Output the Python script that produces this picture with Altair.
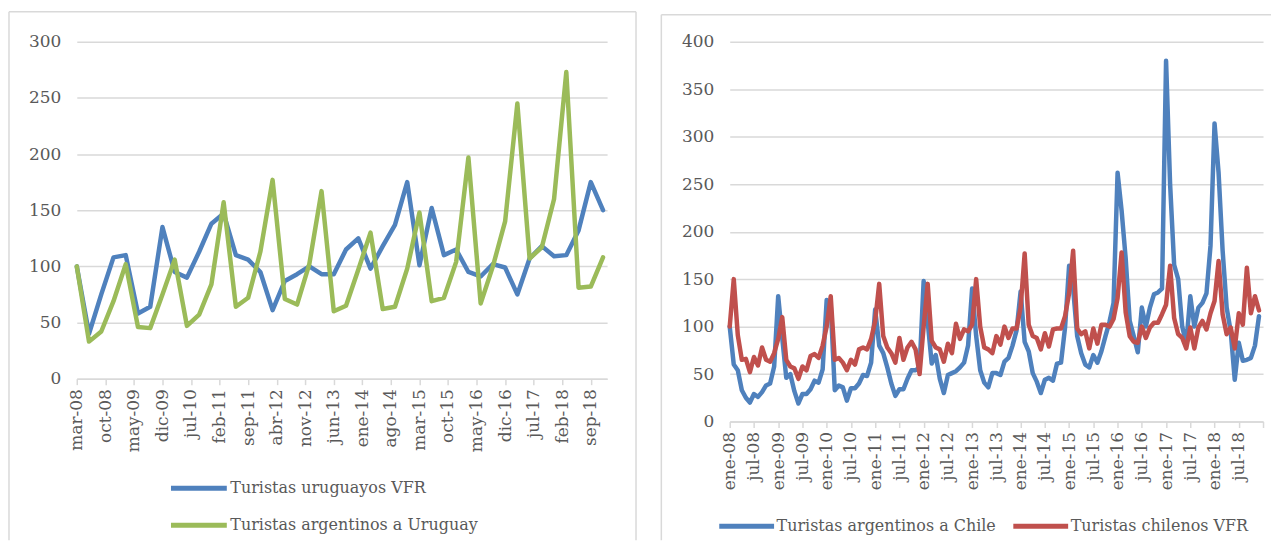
import json
import altair as alt
import pandas as pd

FONT = "DejaVu Serif"
TXT = "#595959"
GRID = "#D9D9D9"
BORDER = "#D9D9D9"

# ---------------- Left panel (quarterly, mar-08 .. dic-18) ----------------
left_series = ["Turistas uruguayos VFR", "Turistas argentinos a Uruguay"]
left_colors = ["#4F81BD", "#9BBB59"]
uruguayos_vfr = [100, 40, 75, 108, 110, 58, 64, 135, 95, 90,
                 113, 138, 147, 110, 106, 95, 61, 87, 93, 100,
                 93, 93, 115, 125, 98, 118, 137, 175, 101, 152,
                 110, 115, 95, 91, 102, 99, 75, 107, 118, 109,
                 110, 132, 175, 150]
argentinos_uy = [100, 33, 42, 69, 102, 46, 45, 75, 106, 47,
                 57, 84, 157, 64, 72, 113, 177, 71, 66, 102,
                 167, 60, 65, 97, 130, 62, 64, 98, 148, 69,
                 72, 104, 197, 67, 100, 140, 245, 107, 117, 160,
                 273, 81, 82, 108]
left_ticks = ["mar-08", "oct-08", "may-09", "dic-09", "jul-10", "feb-11", "sep-11",
              "abr-12", "nov-12", "jun-13", "ene-14", "ago-14", "mar-15", "oct-15",
              "may-16", "dic-16", "jul-17", "feb-18", "sep-18"]

# ---------------- Right panel (monthly, ene-08 .. dic-18) ----------------
right_series = ["Turistas argentinos a Chile", "Turistas chilenos VFR"]
right_colors = ["#4F81BD", "#C0504D"]
argentinos_cl = [
    100, 60, 54, 33, 25, 20, 29, 26, 31, 38, 40, 58,      # 2008
    132, 88, 46, 50, 32, 19, 29, 29, 34, 43, 41, 55,      # 2009
    128, 122, 33, 38, 36, 22, 35, 35, 40, 49, 48, 62,     # 2010
    118, 80, 72, 57, 40, 27, 34, 34, 45, 54, 54, 57,      # 2011
    148, 105, 61, 70, 45, 30, 49, 51, 53, 57, 62, 80,     # 2012
    140, 90, 54, 41, 36, 51, 51, 49, 63, 67, 80, 96,      # 2013
    137, 84, 74, 51, 42, 30, 44, 46, 43, 61, 62, 99,      # 2014
    164, 140, 90, 72, 60, 57, 70, 62, 74, 90, 105, 125,   # 2015
    262, 222, 172, 106, 90, 73, 120, 100, 120, 134, 136, 140,  # 2016
    380, 250, 165, 150, 100, 82, 132, 100, 120, 125, 135, 185,  # 2017
    314, 262, 180, 120, 95, 44, 83, 64, 65, 67, 80, 111,  # 2018
]
chilenos_vfr = [
    100, 150, 91, 65, 66, 52, 68, 59, 78, 65, 63, 72,     # 2008
    87, 110, 65, 58, 56, 45, 58, 54, 69, 71, 67, 80,      # 2009
    100, 132, 65, 67, 62, 54, 65, 60, 76, 78, 76, 87,     # 2010
    106, 145, 90, 78, 72, 62, 88, 65, 78, 84, 76, 50,     # 2011
    100, 145, 85, 78, 76, 63, 82, 72, 103, 87, 97, 95,    # 2012
    102, 150, 100, 78, 76, 72, 90, 81, 100, 88, 98, 98,   # 2013
    120, 177, 102, 90, 88, 76, 93, 79, 97, 98, 98, 111,   # 2014
    135, 180, 98, 92, 95, 77, 98, 82, 102, 102, 100, 108, # 2015
    130, 178, 115, 90, 84, 83, 100, 88, 99, 104, 104, 113,  # 2016
    123, 164, 109, 92, 88, 77, 99, 77, 99, 106, 97, 114,  # 2017
    127, 169, 113, 92, 99, 77, 114, 102, 162, 114, 132, 117,  # 2018
]
right_ticks = ["ene-08", "jul-08", "ene-09", "jul-09", "ene-10", "jul-10", "ene-11",
               "jul-11", "ene-12", "jul-12", "ene-13", "jul-13", "ene-14", "jul-14",
               "ene-15", "jul-15", "ene-16", "jul-16", "ene-17", "jul-17", "ene-18",
               "jul-18"]

# month offsets derived from the dates of each observation
left_months = [3 * i for i in range(len(uruguayos_vfr))]      # months since mar-08
right_months = list(range(len(argentinos_cl)))                 # months since ene-08

left_df = pd.DataFrame({
    "mes": left_months + left_months,
    "valor": uruguayos_vfr + argentinos_uy,
    "serie": [left_series[0]] * len(uruguayos_vfr) + [left_series[1]] * len(argentinos_uy),
})
right_df = pd.DataFrame({
    "mes": right_months + right_months,
    "valor": argentinos_cl + chilenos_vfr,
    "serie": [right_series[0]] * len(argentinos_cl) + [right_series[1]] * len(chilenos_vfr),
})
dummy = pd.DataFrame({"k": [0]})


def rule(x1, x2, y1, y2):
    return alt.Chart(dummy).mark_rule(color=BORDER, strokeWidth=1.5).encode(
        x=alt.value(x1), x2=alt.value(x2), y=alt.value(y1), y2=alt.value(y2)
    )


def x_axis(values, labels, step):
    expr = f"{json.dumps(labels)}[round(datum.value / {step})] || ''"
    return alt.Axis(values=values, labelExpr=expr, labelAngle=270, labelFont=FONT,
                    labelFontSize=17, labelColor=TXT, labelPadding=4, labelOverlap=False,
                    labelFlush=False, domainColor=GRID, domainWidth=1.5, tickColor=GRID,
                    tickWidth=1.5, tickSize=6, grid=False, title=None)


def y_axis(values):
    return alt.Axis(values=values, domain=False, ticks=False, labelFont=FONT,
                    labelFontSize=17, labelColor=TXT, labelPadding=16,
                    gridColor=GRID, gridWidth=1.5, title=None)


LW, LH = 532, 338
RW, RH = 535, 381

left_lines = alt.Chart(left_df).mark_line(strokeWidth=4.5, strokeJoin="round", strokeCap="round").encode(
    x=alt.X("mes:Q", scale=alt.Scale(domain=[0, 130], nice=False, zero=False),
            axis=x_axis(list(range(0, 127, 7)), left_ticks, 7)),
    y=alt.Y("valor:Q", scale=alt.Scale(domain=[0, 300], nice=False),
            axis=y_axis(list(range(0, 301, 50)))),
    color=alt.Color("serie:N", scale=alt.Scale(domain=left_series, range=left_colors),
                    legend=alt.Legend(title=None, orient="none", legendX=92, legendY=438,
                                      direction="vertical", symbolType="stroke",
                                      symbolSize=3136, symbolStrokeWidth=5, clipHeight=20,
                                      rowPadding=17, padding=0, labelOffset=1,
                                      labelFont=FONT, labelFontSize=16, labelColor=TXT,
                                      labelLimit=500)),
)

left = alt.layer(
    rule(-68, LW + 29, -30, -30),
    rule(-68, -68, -30, 500),
    rule(LW + 29, LW + 29, -30, 500),
    left_lines,
).properties(width=LW, height=LH)

right_lines = alt.Chart(right_df).mark_line(strokeWidth=4.5, strokeJoin="round", strokeCap="round").encode(
    x=alt.X("mes:Q", scale=alt.Scale(domain=[0, 132], nice=False, zero=False),
            axis=x_axis(list(range(0, 133, 6)), right_ticks, 6)),
    y=alt.Y("valor:Q", scale=alt.Scale(domain=[0, 400], nice=False),
            axis=y_axis(list(range(0, 401, 50)))),
    color=alt.Color("serie:N", scale=alt.Scale(domain=right_series, range=right_colors),
                    legend=alt.Legend(title=None, orient="none", legendX=-13, legendY=476,
                                      direction="horizontal", symbolType="stroke",
                                      symbolSize=3025, symbolStrokeWidth=5, clipHeight=20,
                                      columnPadding=14, padding=0, labelOffset=0,
                                      labelFont=FONT, labelFontSize=16, labelColor=TXT,
                                      labelLimit=500)),
)

right = alt.layer(
    rule(-68.6, RW + 8, -27, -27),
    rule(-68.6, -68.6, -27, 500),
    right_lines,
).properties(width=RW, height=RH)

chart = alt.hconcat(left, right, spacing=23).resolve_scale(color="independent").configure(
    padding={"left": 0, "top": 2, "right": 0, "bottom": 0},
    background="white",
).configure_view(strokeWidth=0)

chart.save("out.html", embed_options={"renderer": "svg", "actions": False})
